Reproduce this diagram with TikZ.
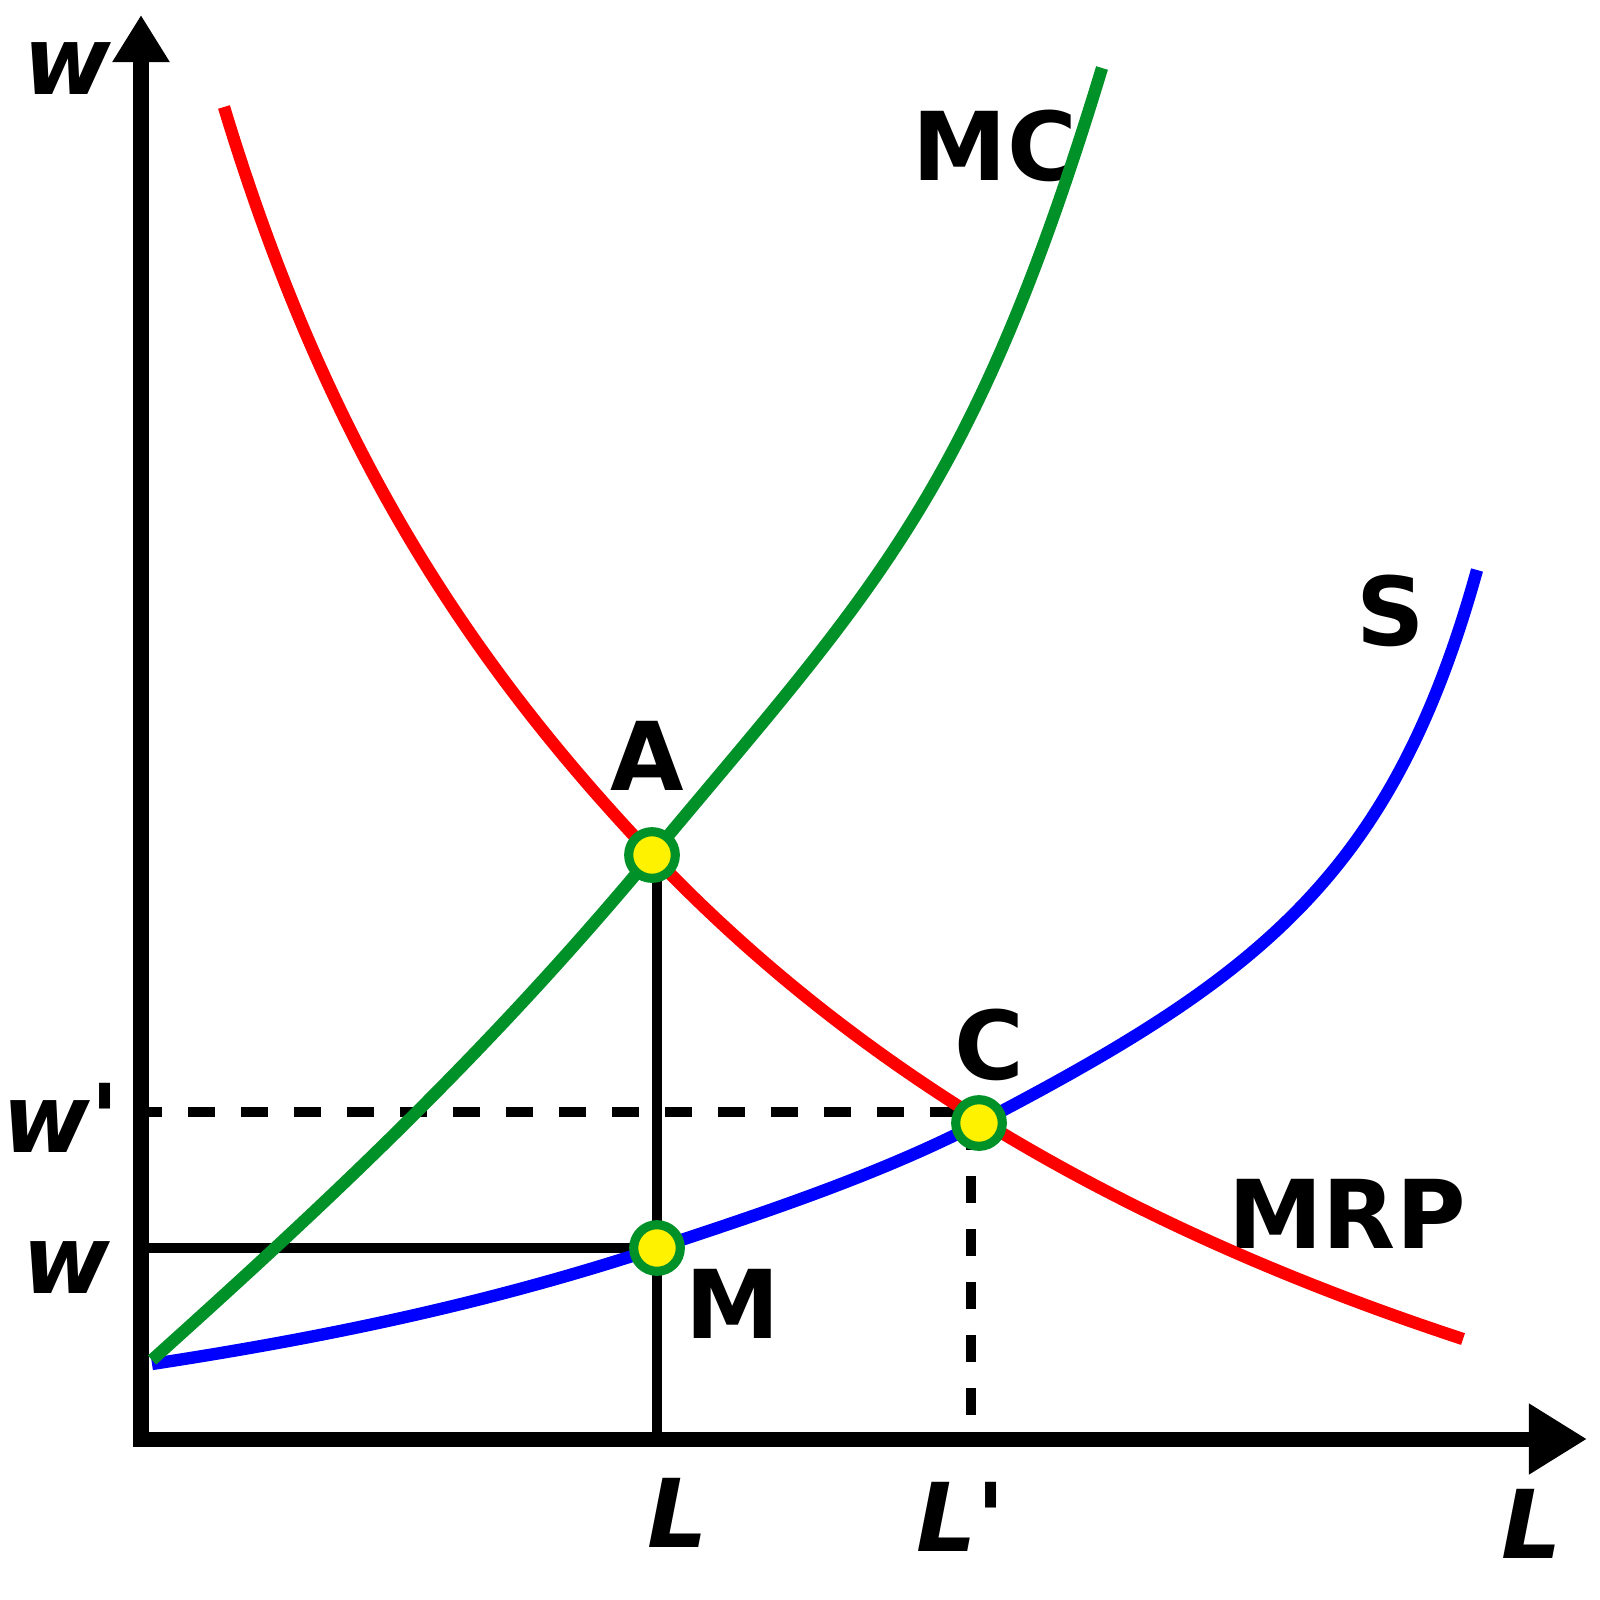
\documentclass[tikz,border=0pt]{standalone}
\usepackage{fontspec}
\setmainfont{DejaVu Sans}
\usetikzlibrary{arrows.meta, positioning}
\definecolor{mrpred}{RGB}{255,0,0}
\definecolor{mcgreen}{RGB}{0,145,40}
\definecolor{sblue}{RGB}{0,0,255}
\tikzset{
    axis/.style={line width=4.27pt, {Triangle[length=13.4pt,width=15.4pt]}-{Triangle[length=16.5pt,width=19pt]}},
    curve/.style={line width=3.5pt},
    guide/.style={line width=2.8pt, draw=black},
    guidedash/.style={guide, dash pattern=on 7.68pt off 7.4pt},
    dot/.style={circle, draw=mcgreen, fill=yellow, line width=2.6pt, minimum size=4.66mm, inner sep=0pt},
    lbl/.style={font=\bfseries\fontsize{27}{27}\selectfont, inner sep=0pt, outer sep=0pt},
    var/.style={lbl, font=\bfseries\itshape\fontsize{27}{27}\selectfont}
}

\begin{document}
\begin{tikzpicture}[x=0.01cm, y=-0.01cm]
    \useasboundingbox (0,0) rectangle (1600,1600);

    % Assi
    \coordinate (O) at (141,1439);
    \coordinate (ytip) at (141,15);
    \coordinate (xtip) at (1587,1439);
    \draw[axis] (ytip) -- (O) -- (xtip);

    % Etichette degli assi e delle curve
    \node[var, anchor=base] (wtop) at (67,95) {w};
    \node[var, anchor=base] (wprime) at (61,1152) {w{\upshape\textquotesingle}};
    \node[var, anchor=base] (wlow) at (66,1293) {w};
    \node[var, anchor=base] (Llab) at (678,1547) {L};
    \node[var, anchor=base] (Lprime) at (961,1551) {L{\upshape\textquotesingle}};
    \node[var, anchor=base] (Laxis) at (1532,1558) {L};
    \node[lbl, anchor=base] (mclab) at (995,181) {MC};
    \node[lbl, anchor=base] (slab) at (1391,645) {S};
    \node[lbl, anchor=base] (mrplab) at (1347,1248) {MRP};

    % Punti di equilibrio
    \coordinate (Apos) at (652,855);
    \coordinate (Cpos) at (979,1123);
    \coordinate (Mpos) at (657,1248);

    % Linee di riferimento
    \coordinate (wp) at (135,1112);
    \coordinate (lp) at (971,1416);
    \draw[guidedash] (wp) -- (wp -| Cpos);
    \draw[guidedash] (lp |- Cpos) -- (lp);
    \draw[guide] (O |- Mpos) -- (Mpos);
    \draw[guide] (Mpos |- Apos) -- (Mpos |- O);

    % Curve
    \draw[curve, sblue] (152,1364) .. controls (322,1338) and (487,1304) .. (Mpos)
        .. controls (757,1215) and (879,1175) .. (Cpos)
        .. controls (1259,977) and (1392,876) .. (1477,570);
    \draw[curve, mrpred] (224,107) .. controls (324,437) and (462,655) .. (Apos)
        .. controls (852,1065) and (1113,1224) .. (1463,1339);
    \draw[curve, mcgreen] (152,1360) .. controls (322,1207) and (482,1059) .. (Apos)
        .. controls (872,591) and (972,497) .. (1102,68);

    \node[dot] (A) at (Apos) {};
    \node[dot] (C) at (Cpos) {};
    \node[dot] (M) at (Mpos) {};

    \node[lbl, above=0.37cm of A, xshift=-0.05cm] (alab) {A};
    \node[lbl, above=0.14cm of C, xshift=0.1cm] (clab) {C};
    \node[lbl, below right=0.02cm and 0.09cm of M] (mlab) {M};

\end{tikzpicture}
\end{document}
